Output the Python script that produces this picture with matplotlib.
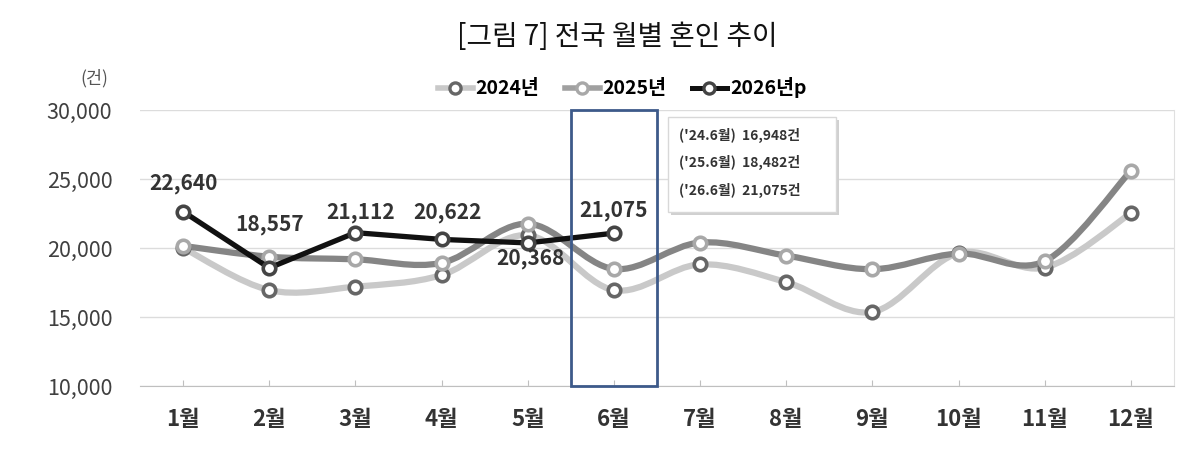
import matplotlib
matplotlib.use("Agg")
import matplotlib.pyplot as plt
from matplotlib.path import Path
from matplotlib.patches import PathPatch, Rectangle
from matplotlib.lines import Line2D
import numpy as np

plt.rcParams['font.family'] = ['Noto Sans CJK KR', 'DejaVu Sans']

months = ['1월', '2월', '3월', '4월', '5월', '6월', '7월', '8월', '9월', '10월', '11월', '12월']
y2024 = [20008, 16949, 17198, 18039, 20923, 16948, 18811, 17527, 15368, 19634, 18583, 22521]
y2025 = [20153, 19370, 19181, 18921, 21761, 18482, 20394, 19449, 18462, 19600, 19050, 25600]
y2026 = [22640, 18557, 21112, 20622, 20368, 21075]
labels2026 = ['22,640', '18,557', '21,112', '20,622', '20,368', '21,075']
series_names = ['2024년', '2025년', '2026년p']
yticks = [10000, 15000, 20000, 25000, 30000]
box_lines = ["('24.6월)  16,948건", "('25.6월)  18,482건", "('26.6월)  21,075건"]

W, H = 1200, 467
fig = plt.figure(figsize=(W / 100, H / 100), dpi=100)
ax = fig.add_axes([140 / W, 1 - 386 / H, (1174 - 140) / W, (386 - 110) / H])

x = np.arange(len(months))


def smooth_path(xs, ys):
    xs = np.asarray(xs, float)
    ys = np.asarray(ys, float)
    n = len(xs)
    verts = [(xs[0], ys[0])]
    codes = [Path.MOVETO]
    for i in range(n - 1):
        p0 = np.array([xs[max(i - 1, 0)], ys[max(i - 1, 0)]])
        p1 = np.array([xs[i], ys[i]])
        p2 = np.array([xs[i + 1], ys[i + 1]])
        p3 = np.array([xs[min(i + 2, n - 1)], ys[min(i + 2, n - 1)]])
        c1 = p1 + (p2 - p0) / 6.0
        c2 = p2 - (p3 - p1) / 6.0
        verts += [tuple(c1), tuple(c2), tuple(p2)]
        codes += [Path.CURVE4] * 3
    return Path(verts, codes)


c24_line, c24_mk = '#c9c9c9', '#666666'
c25_line, c25_mk = '#858585', '#a8a8a8'
c26_line, c26_mk = '#111111', '#444444'

ax.add_patch(PathPatch(smooth_path(x, y2024), fill=False, edgecolor=c24_line, lw=4.5,
                       capstyle='round', joinstyle='round', zorder=3))
ax.plot(x, y2024, ls='none', marker='o', ms=9, mfc='white', mec=c24_mk, mew=2.6, zorder=5)

ax.add_patch(PathPatch(smooth_path(x, y2025), fill=False, edgecolor=c25_line, lw=4.5,
                       capstyle='round', joinstyle='round', zorder=3.5))
ax.plot(x, y2025, ls='none', marker='o', ms=9, mfc='white', mec=c25_mk, mew=2.6, zorder=5.5)

ax.plot(x[:len(y2026)], y2026, color=c26_line, lw=3.8, solid_joinstyle='round', zorder=6)
ax.plot(x[:len(y2026)], y2026, ls='none', marker='o', ms=9, mfc='white', mec=c26_mk,
        mew=2.6, zorder=7)

# data labels for 2026
offsets = [(0, 20), (0, 31), (4, 14.5), (4.5, 19.5), (2, -11.5), (0, 16.5)]
for i, (v, lab) in enumerate(zip(y2026, labels2026)):
    dx, dy = offsets[i]
    ax.annotate(lab, (x[i], v), xytext=(dx, dy), textcoords='offset points',
                ha='center', va='center', fontsize=15, fontweight='bold', color='#333333',
                zorder=8)

# highlight box around June
ax.add_patch(Rectangle((4.5, 10000), 1.0, 20000, fill=False, edgecolor='#3d5a8a', lw=2,
                       zorder=9, clip_on=False))

ax.set_xlim(-0.5, 11.5)
ax.set_ylim(10000, 30000)
ax.set_yticks(yticks)
ax.set_yticklabels([f'{t:,}' for t in yticks])
ax.set_xticks(x)
ax.set_xticklabels(months)
ax.tick_params(axis='y', length=0, pad=20, labelsize=15.5, labelcolor='#404040')
ax.tick_params(axis='x', direction='in', length=4, color='#bfbfbf', pad=16, labelsize=16,
               labelcolor='#333333')
for lab in ax.get_xticklabels():
    lab.set_fontweight('bold')
ax.grid(axis='y', color='#dcdcdc', lw=1)
ax.set_axisbelow(True)
for s in ['top', 'left']:
    ax.spines[s].set_visible(False)
ax.spines['bottom'].set_color('#bfbfbf')
ax.spines['right'].set_color('#e0e0e0')

# annotation box
bx0, by0, bw, bh = 668 / W, 1 - 212 / H, (836 - 668) / W, (212 - 117) / H
fig.patches.append(Rectangle((bx0 + 3 / W, by0 - 3 / H), bw, bh, transform=fig.transFigure,
                             facecolor='#d0d0d0', edgecolor='none', zorder=1))
fig.patches.append(Rectangle((bx0, by0), bw, bh, transform=fig.transFigure,
                             facecolor='white', edgecolor='#d8d8d8', lw=1, zorder=2))
for j, t in enumerate(box_lines):
    fig.text(679 / W, 1 - (135 + 27.5 * j) / H, t, ha='left', va='center', fontsize=10,
             fontweight='bold', color='#333333', zorder=3)

# title and unit
fig.text(617 / W, 1 - 37 / H, '[그림 7] 전국 월별 혼인 추이', ha='center', va='center',
         fontsize=20, fontweight='medium', color='#111111')
fig.text(94 / W, 1 - 78 / H, '(건)', ha='center', va='center', fontsize=12.5, color='#555555')

# legend
handles = [
    Line2D([], [], color=c24_line, lw=4, marker='o', ms=8, mfc='white', mec=c24_mk, mew=2.4),
    Line2D([], [], color='#a0a0a0', lw=4, marker='o', ms=8, mfc='white', mec=c25_mk, mew=2.4),
    Line2D([], [], color=c26_line, lw=3.6, marker='o', ms=8, mfc='white', mec=c26_mk, mew=2.4),
]
fig.legend(handles, series_names, loc='center', bbox_to_anchor=(622 / W, 1 - 88 / H),
           ncol=3, frameon=False, handlelength=1.8, handletextpad=0.15, columnspacing=1.3,
           prop={'weight': 'bold', 'size': 14})

fig.savefig('out.png', dpi=100)
